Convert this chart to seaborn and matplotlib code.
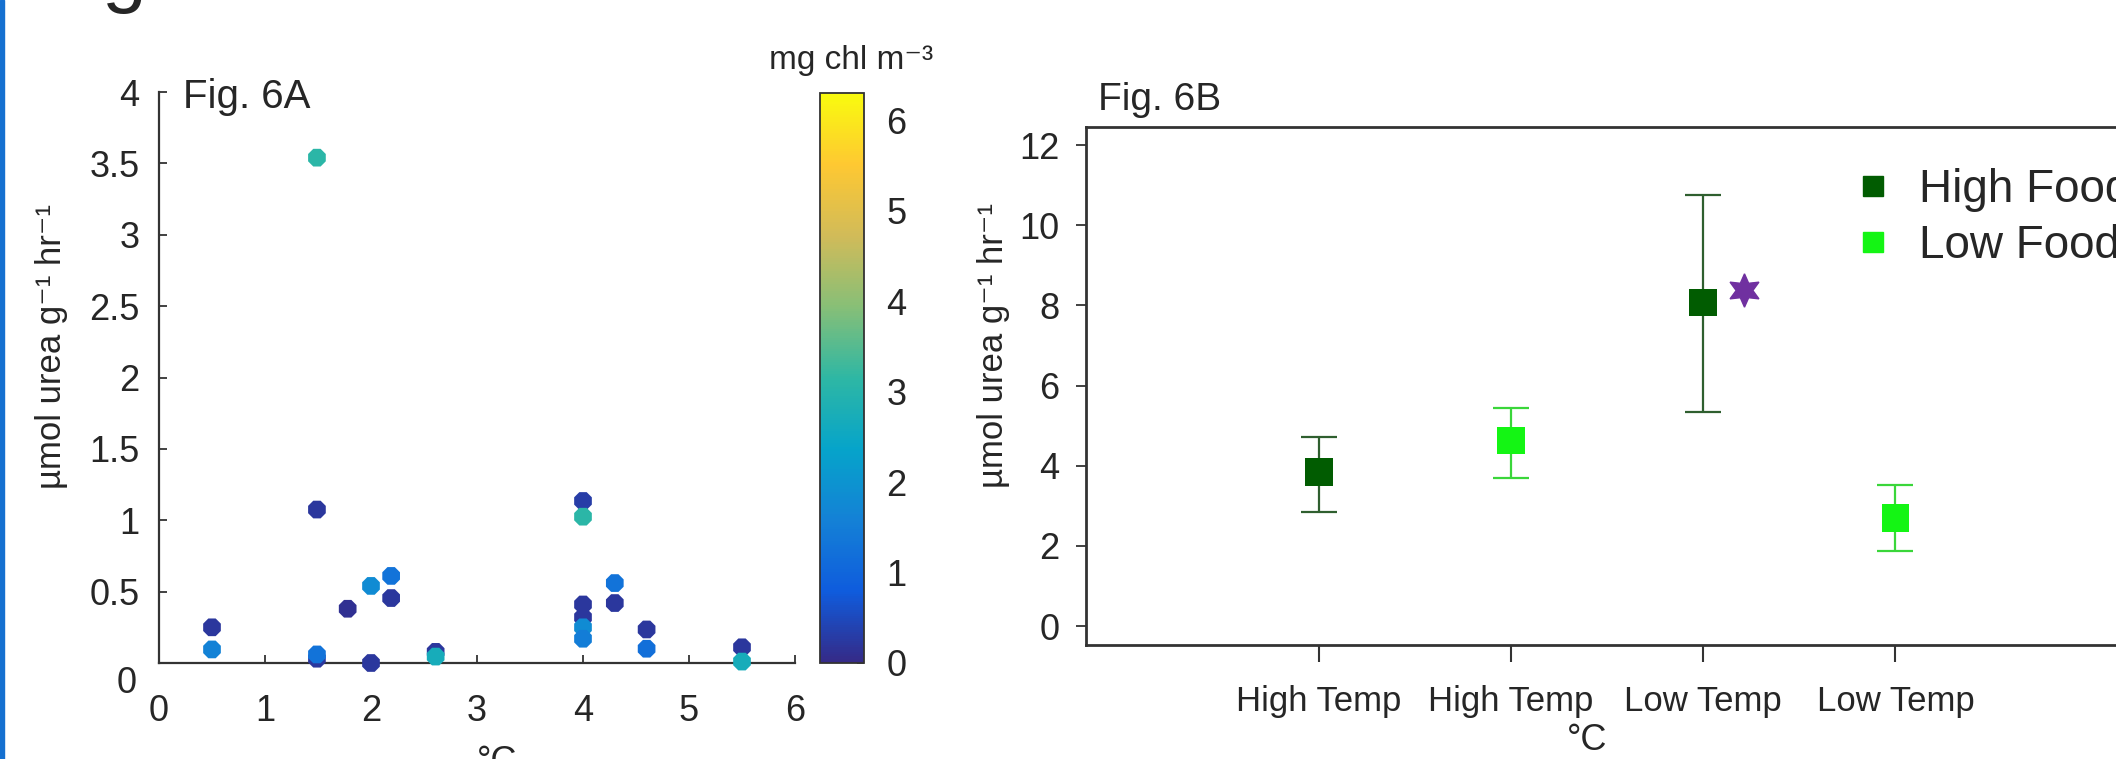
import numpy as np
import pandas as pd
import matplotlib
matplotlib.use("Agg")
import matplotlib.pyplot as plt
from matplotlib.colors import LinearSegmentedColormap, Normalize
from matplotlib.cm import ScalarMappable
from matplotlib.lines import Line2D
import seaborn as sns

# Fig. 6A - individual measurements (temperature, urea rate, chlorophyll)
temp_a = [0.5, 0.5, 1.49, 1.49, 1.49, 1.49, 1.78, 2.0, 2.0, 2.19, 2.19, 2.61, 2.61,
          4.0, 4.0, 4.0, 4.0, 4.0, 4.0, 4.3, 4.3, 4.6, 4.6, 5.5, 5.5]
urea_a = [0.25, 0.095, 3.54, 1.075, 0.03, 0.06, 0.38, 0.54, 0.0, 0.61, 0.455, 0.078, 0.045,
          1.135, 1.025, 0.41, 0.32, 0.25, 0.17, 0.56, 0.42, 0.235, 0.10, 0.11, 0.01]
chl_a = [0.2, 1.6, 3.1, 0.2, 0.2, 1.3, 0.1, 1.8, 0.2, 1.3, 0.2, 0.2, 2.7,
         0.3, 3.1, 0.2, 0.2, 1.8, 1.5, 1.3, 0.2, 0.2, 1.2, 0.2, 2.7]
y_ticks_a = ["", "0.5", "1", "1.5", "2", "2.5", "3", "3.5", "4"]

# Fig. 6B - treatment means with error bars
cat_labels = ["High Temp", "High Temp", "Low Temp", "Low Temp"]
food = ["High Food", "Low Food", "High Food", "Low Food"]
mean_b = [3.84, 4.63, 8.07, 2.70]
upper_b = [4.71, 5.45, 10.75, 3.52]
lower_b = [2.85, 3.70, 5.35, 1.88]
star_x = [2.21]
star_y = [8.38]

W, H = 2116, 759
sns.set_theme(style="white")
plt.rcParams["font.family"] = ["Liberation Sans", "DejaVu Sans"]

# approximate MATLAB parula
parula = LinearSegmentedColormap.from_list("parula", [
    "#352a87", "#0f5cdd", "#1481d6", "#06a4ca", "#2eb7a4",
    "#87bf77", "#d1bb59", "#fec832", "#f9fb0e"])
norm = Normalize(0, 6.3)

fig = plt.figure(figsize=(W / 100, H / 100), dpi=100)
fig.patch.set_facecolor("white")


def px(x0, y_top, x1, y_bot):
    return [x0 / W, 1 - y_bot / H, (x1 - x0) / W, (y_bot - y_top) / H]


ylab = "µmol urea g⁻¹ hr⁻¹"

# ---------------- Fig. 6A ----------------
ax1 = fig.add_axes(px(159, 92, 795, 663))
df_a = pd.DataFrame({"temp": temp_a, "urea": urea_a, "chl": chl_a})
sns.scatterplot(data=df_a, x="temp", y="urea", hue="chl", palette=parula,
                hue_norm=norm, marker="8", s=190, linewidth=0, legend=False,
                ax=ax1, clip_on=False, zorder=3)
ax1.set_xlim(0, 6)
ax1.set_ylim(0, 4)
ax1.set_xticks(range(7))
ax1.set_yticks(np.arange(0, 4.01, 0.5))
ax1.set_yticklabels(y_ticks_a)
for s in ["top", "right"]:
    ax1.spines[s].set_visible(False)
for s in ["left", "bottom"]:
    ax1.spines[s].set_color("#333333")
    ax1.spines[s].set_linewidth(1.6)
ax1.tick_params(axis="both", direction="in", length=6, width=1.3, color="#333333",
                labelsize=26, left=True, bottom=True)
ax1.tick_params(axis="x", pad=22)
ax1.tick_params(axis="y", pad=14)
# the zero label sits a little below its tick in the original
ax1.annotate("0", xy=(0, 0), xycoords="axes fraction", xytext=(-16, -15),
             textcoords="offset points", ha="right", va="center", fontsize=26)
ax1.set_xlabel("°C", fontsize=26)
ax1.xaxis.set_label_coords((497 - 159) / 636, (663 - 762) / 571)
ax1.xaxis.label.set_va("center")
ax1.set_ylabel(ylab, fontsize=25)
ax1.yaxis.set_label_coords((52 - 159) / 636, (663 - 347) / 571)
ax1.yaxis.label.set_va("center")
fig.text(183 / W, 1 - 97 / H, "Fig. 6A", fontsize=29, ha="left", va="center")

# colorbar
cax = fig.add_axes(px(820, 93, 864, 663))
cb = fig.colorbar(ScalarMappable(norm=norm, cmap=parula), cax=cax)
cb.set_ticks(range(7))
cb.outline.set_edgecolor("#333333")
cb.outline.set_linewidth(1.3)
cax.tick_params(direction="in", length=5, width=1.2, color="#333333",
                labelsize=26, pad=16)
fig.text(851 / W, 1 - 61 / H, "mg chl m⁻³", fontsize=24, ha="center", va="center")

# ---------------- Fig. 6B ----------------
ax2 = fig.add_axes(px(1086, 127, 2130, 645))
pos = np.arange(len(cat_labels))
colors = {"High Food": "#015c01", "Low Food": "#14f514"}
err_colors = {"High Food": "#2f5f2f", "Low Food": "#3ad63a"}
for i in range(len(pos)):
    ax2.errorbar(pos[i], mean_b[i],
                 yerr=[[mean_b[i] - lower_b[i]], [upper_b[i] - mean_b[i]]],
                 fmt="none", ecolor=err_colors[food[i]], elinewidth=1.6,
                 capsize=13, capthick=1.6, zorder=2)
df_b = pd.DataFrame({"pos": pos, "mean": mean_b, "food": food})
sns.scatterplot(data=df_b, x="pos", y="mean", hue="food", palette=colors,
                marker="s", s=400, linewidth=0, legend=False, ax=ax2, zorder=3)
ax2.plot(star_x, star_y, marker=(6, 1, 0), markersize=24, color="#7030a0",
         linestyle="none", zorder=3)
ax2.set_xlim(-1.21, 4.22)
ax2.set_ylim(-0.47, 12.45)
ax2.set_xticks(pos)
ax2.set_xticklabels(cat_labels)
ax2.set_yticks(range(0, 13, 2))
for s in ax2.spines.values():
    s.set_color("#333333")
    s.set_linewidth(2.0)
ax2.spines["right"].set_visible(False)
ax2.tick_params(axis="y", direction="out", length=7, width=1.3, color="#333333",
                labelsize=26, pad=12, left=True)
ax2.tick_params(axis="x", direction="out", length=12, width=1.5, color="#333333",
                labelsize=25, pad=17, bottom=True)
ax2.set_xlabel("°C", fontsize=26)
ax2.xaxis.set_label_coords((1587 - 1086) / 1044, (645 - 740) / 518)
ax2.xaxis.label.set_va("center")
ax2.set_ylabel(ylab, fontsize=25)
ax2.yaxis.set_label_coords((993 - 1086) / 1044, (645 - 345) / 518)
ax2.yaxis.label.set_va("center")
fig.text(1098 / W, 1 - 100 / H, "Fig. 6B", fontsize=28, ha="left", va="center")

handles = [Line2D([], [], marker="s", linestyle="none", markersize=14,
                  color=colors[k]) for k in ["High Food", "Low Food"]]
ax2.legend(handles, ["High Food", "Low Food"], loc="upper left",
           bbox_to_anchor=((1832 - 1086) / 1044, (645 - 150) / 518),
           frameon=False, fontsize=33, handletextpad=0.5, labelspacing=0.25,
           borderaxespad=0, handlelength=1.0)

# decorations at the edges of the page
fig.patches.append(plt.Rectangle((0, 0), 4 / W, 1, transform=fig.transFigure,
                                 color="#1570d0", zorder=5))
fig.text(102 / W, 1 + 3 / H, "g", fontsize=58, ha="left", va="baseline")

fig.savefig("out.png", dpi=100)
